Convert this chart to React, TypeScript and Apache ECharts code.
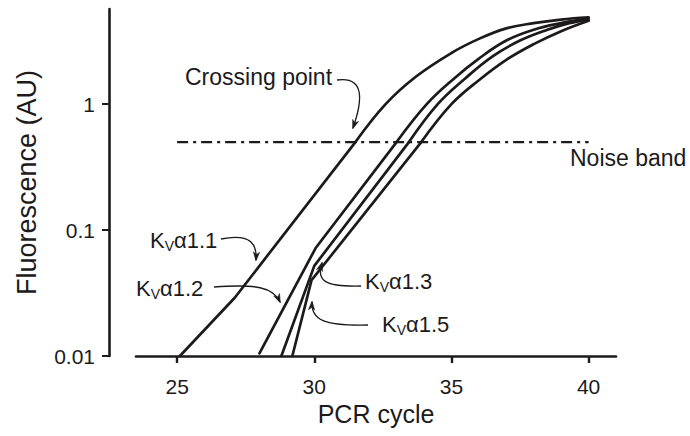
import React, { useEffect, useRef } from "react";
import * as echarts from "echarts";

// ---- data ----
const xTicks = [25, 30, 35, 40];

// first three points of each curve: start, kink, noise-band crossing
const kv11Cycle = [25.1, 27.1, 31.5, 32.6, 33.7, 35, 36, 37, 38, 39, 40];
const kv11Fluor = [0.01, 0.029, 0.5, 1.0, 1.65, 2.55, 3.3, 4.0, 4.4, 4.7, 4.9];
const kv12Cycle = [28.0, 30.05, 33.0, 34.1, 35.1, 36, 37, 38, 39, 40];
const kv12Fluor = [0.0105, 0.072, 0.5, 1.0, 1.6, 2.3, 3.2, 3.9, 4.4, 4.8];
const kv13Cycle = [28.8, 30.0, 33.45, 34.5, 35.5, 36.5, 37.5, 38.5, 39.3, 40];
const kv13Fluor = [0.01, 0.052, 0.5, 1.0, 1.6, 2.4, 3.2, 3.9, 4.4, 4.7];
const kv15Cycle = [29.2, 29.9, 33.9, 35.0, 36, 37, 38, 39, 40];
const kv15Fluor = [0.01, 0.04, 0.5, 1.0, 1.55, 2.25, 3.0, 3.8, 4.6];
const noiseCycle = [25, 40];
const noiseLevel = [0.5, 0.5];

const X_MIN = 23.5;
const X_MAX = 41;
const Y_MIN = 0.01;
const Y_MAX = 5.7;
const Y_OFFSET = 27;

const FONT = "'Liberation Sans', Arial, Helvetica, sans-serif";
const INK = "#1c1a1b";

function zip(xs: number[], ys: number[]) {
  return xs.map((x, i) => [x, ys[i]]);
}

function curveSeries(name: string, xs: number[], ys: number[]) {
  const pts = zip(xs, ys);
  const base = {
    type: "line",
    symbol: "none",
    silent: true,
    lineStyle: { color: INK, width: 2.7, cap: "round", join: "round" },
  };
  return [
    { ...base, name: name + "-low", data: pts.slice(0, 3), smooth: false },
    { ...base, name: name + "-high", data: pts.slice(2), smooth: 0.4 },
  ];
}

type Ann = {
  left: number;
  cy: number;
  rich?: boolean;
  label: string;
  leader: number[][]; // p0, cp1, cp2, p3
};

const annotations: Ann[] = [
  { left: 185, cy: 77, label: "Crossing point", leader: [[337, 80], [366, 76], [362, 102], [353, 128]] },
  { left: 150, cy: 240, rich: true, label: "1.1", leader: [[221, 239], [252, 233], [257, 245], [256, 260]] },
  { left: 136, cy: 288, rich: true, label: "1.2", leader: [[214, 287], [256, 284], [273, 287], [280, 302]] },
  { left: 365, cy: 281, rich: true, label: "1.3", leader: [[361, 286], [325, 287], [316, 281], [322, 263]] },
  { left: 382, cy: 324, rich: true, label: "1.5", leader: [[368, 325], [324, 326], [311, 320], [312, 302]] },
  { left: 570, cy: 158, label: "Noise band", leader: [] },
];

function buildGraphics() {
  const els: any[] = [];
  annotations.forEach((a) => {
    if (a.rich) {
      els.push({
        type: "text",
        x: a.left,
        y: a.cy,
        silent: true,
        style: {
          text: "{k|K}{s|V}{k|\u03b1" + a.label + "}",
          verticalAlign: "middle",
          fill: INK,
          rich: {
            k: { fontSize: 22, fontFamily: FONT, fill: INK },
            s: { fontSize: 14, fontFamily: FONT, fill: INK, padding: [12, 0, 0, 0] },
          },
        },
      });
    } else {
      els.push({
        type: "text",
        x: a.left,
        y: a.cy,
        silent: true,
        style: { text: a.label, fontSize: 23, fontFamily: FONT, fill: INK, verticalAlign: "middle" },
      });
    }
    if (a.leader.length === 4) {
      const [p0, c1, c2, p3] = a.leader;
      els.push({
        type: "bezierCurve",
        silent: true,
        shape: { x1: p0[0], y1: p0[1], cpx1: c1[0], cpy1: c1[1], cpx2: c2[0], cpy2: c2[1], x2: p3[0], y2: p3[1] },
        style: { stroke: INK, lineWidth: 1.3, fill: null },
      });
      const dx = p3[0] - c2[0];
      const dy = p3[1] - c2[1];
      const len = Math.hypot(dx, dy) || 1;
      const ux = dx / len;
      const uy = dy / len;
      const L = 8;
      const W = 3.2;
      const bx = p3[0] - ux * L;
      const by = p3[1] - uy * L;
      els.push({
        type: "polygon",
        silent: true,
        shape: {
          points: [
            [p3[0] + ux * 1, p3[1] + uy * 1],
            [bx - uy * W, by + ux * W],
            [bx + ux * 2.5, by + uy * 2.5],
            [bx + uy * W, by - ux * W],
          ],
        },
        style: { fill: INK, stroke: INK, lineWidth: 0.5 },
      });
    }
  });
  return els;
}

export default function App() {
  const ref = useRef<HTMLDivElement>(null);
  useEffect(() => {
    if (!ref.current) return;
    const chart = echarts.init(ref.current, null, { renderer: "svg" });
    const fmt = (v: number) => String(+Number(v).toPrecision(3));
    const option: any = {
      animation: false,
      backgroundColor: "#ffffff",
      grid: { left: 136, right: 74, top: 9, bottom: 80, containLabel: false },
      xAxis: {
        type: "value",
        min: X_MIN,
        max: X_MAX,
        name: "PCR cycle",
        nameLocation: "middle",
        nameGap: 44,
        nameTextStyle: { fontSize: 25, fontFamily: FONT, color: INK },
        axisLine: { show: true, onZero: false, lineStyle: { color: INK, width: 2.6 } },
        axisTick: { show: true, customValues: xTicks, length: 7, lineStyle: { color: INK, width: 2.4 } },
        axisLabel: { customValues: xTicks, fontSize: 21, fontFamily: FONT, color: INK, margin: 20, formatter: fmt },
        splitLine: { show: false },
      },
      yAxis: {
        type: "log",
        logBase: 10,
        min: Y_MIN,
        max: Y_MAX,
        position: "left",
        offset: Y_OFFSET,
        name: "Fluorescence (AU)",
        nameLocation: "middle",
        nameGap: 69,
        nameTextStyle: { fontSize: 27, fontFamily: FONT, color: INK },
        axisLine: { show: true, lineStyle: { color: INK, width: 2.6 } },
        axisTick: { show: true, length: 7, lineStyle: { color: INK, width: 2 } },
        axisLabel: { fontSize: 21, fontFamily: FONT, color: INK, margin: 14, formatter: fmt, showMaxLabel: false },
        splitLine: { show: false },
      },
      series: [
        ...curveSeries("Kv1.1", kv11Cycle, kv11Fluor),
        ...curveSeries("Kv1.2", kv12Cycle, kv12Fluor),
        ...curveSeries("Kv1.3", kv13Cycle, kv13Fluor),
        ...curveSeries("Kv1.5", kv15Cycle, kv15Fluor),
        {
          type: "line",
          name: "Noise band",
          symbol: "none",
          silent: true,
          data: zip(noiseCycle, noiseLevel),
          lineStyle: { color: INK, width: 2.4, type: [11, 5, 3, 5] },
        },
      ],
      graphic: buildGraphics(),
    };
    chart.setOption(option);
    return () => chart.dispose();
  }, []);
  return (
    <div
      ref={ref}
      style={{ position: "fixed", left: 0, top: 0, width: 690, height: 436, background: "#fff" }}
    />
  );
}
